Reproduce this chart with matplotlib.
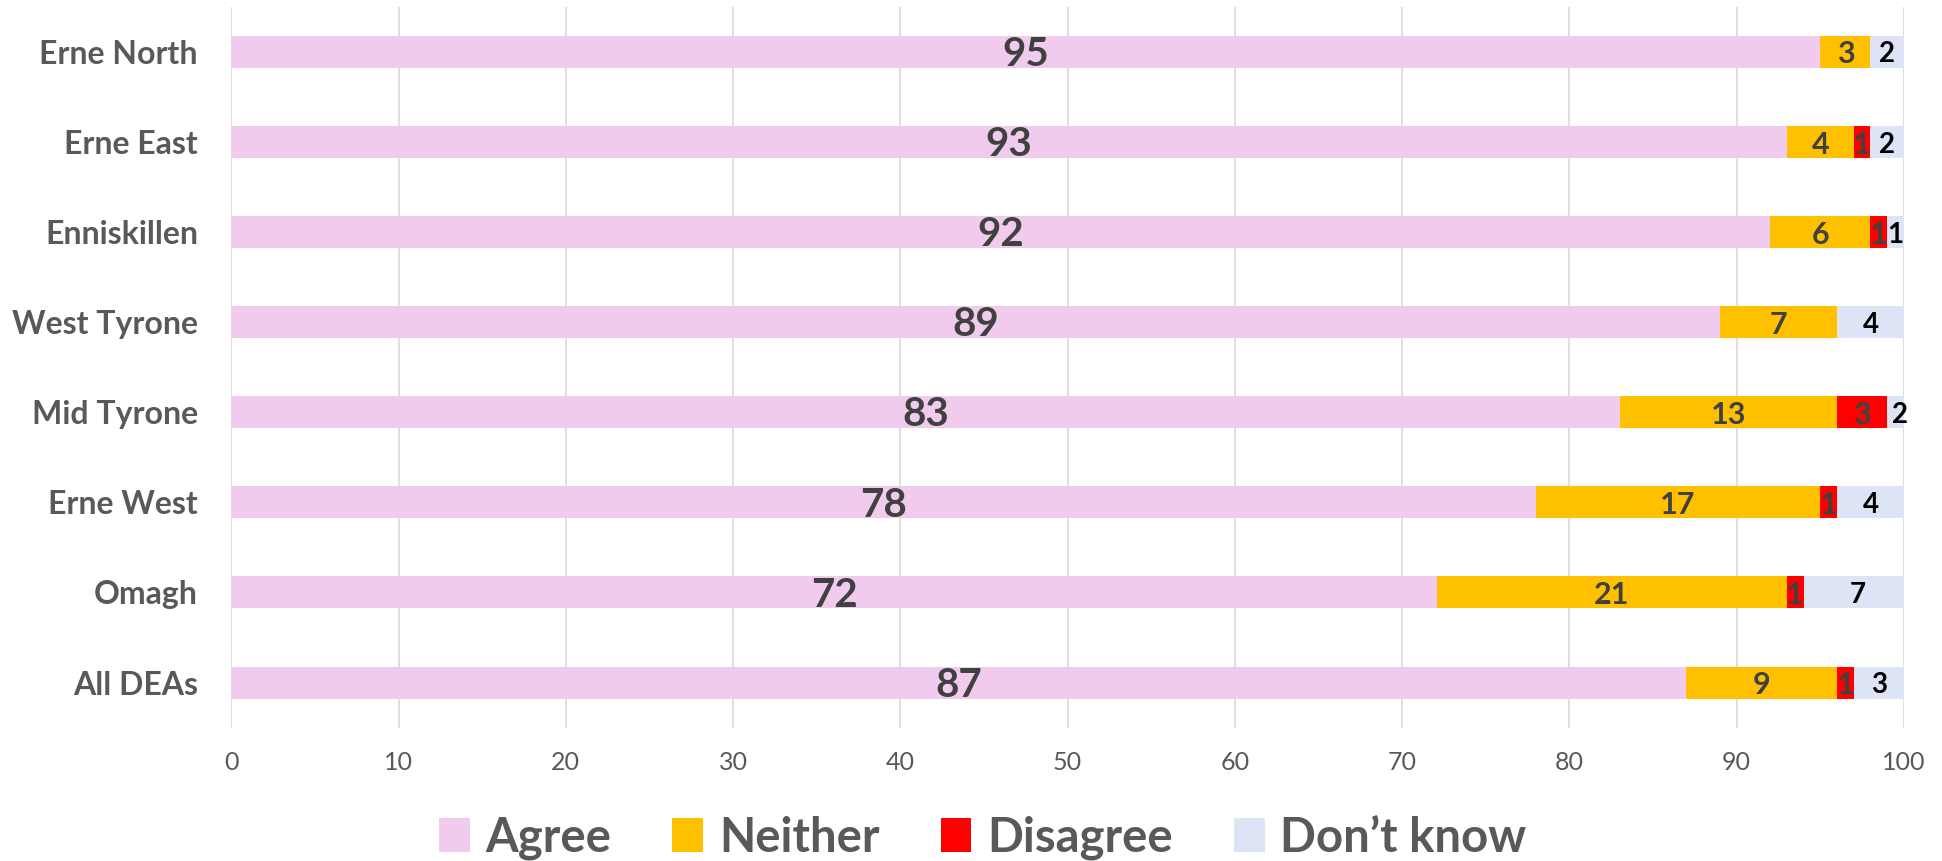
import matplotlib
matplotlib.use("Agg")
import matplotlib.pyplot as plt
import numpy as np

plt.rcParams["font.family"] = ["Lato", "DejaVu Sans"]

areas = ["Erne North", "Erne East", "Enniskillen", "West Tyrone",
         "Mid Tyrone", "Erne West", "Omagh", "All DEAs"]
agree = [95, 93, 92, 89, 83, 78, 72.1, 87]
neither = [3, 4, 6, 7, 13, 17, 20.9, 9]
disagree = [0, 1, 1, 0, 3, 1, 1, 1]
dont_know = [2, 2, 1, 4, 1.5, 4, 6.5, 3]

SERIES = [
    ("Agree", agree, "#F0CBEE", "#404040", 29),
    ("Neither", neither, "#FFC000", "#404040", 22),
    ("Disagree", disagree, "#FF0000", "#404040", 22),
    ("Don\u2019t know", dont_know, "#DDE4F5", "black", 20),
]

fig = plt.figure(figsize=(19.42, 8.61), dpi=100)
ax = fig.add_axes([0.1191, 0.1549, 0.9804 - 0.1191, 0.9922 - 0.1549])

y = np.arange(len(areas))
left = np.zeros(len(areas))
handles = []
for name, vals, color, tcolor, fs in SERIES:
    vals = np.array(vals, dtype=float)
    bars = ax.barh(y, vals, left=left, height=0.355, color=color, label=name, zorder=3)
    handles.append(bars)
    for yi, l, v in zip(y, left, vals):
        if v <= 0:
            continue
        ax.text(l + v / 2, yi + 0.03, str(int(v + 0.5)), ha="center", va="center",
                fontsize=fs, fontweight="bold", color=tcolor, zorder=4)
    left = left + vals

ax.set_xlim(0, 100)
ax.set_ylim(len(areas) - 0.5, -0.5)
ax.set_xticks(np.arange(0, 101, 10))
ax.set_yticks(y)
ax.set_yticklabels(areas, fontsize=23, fontweight="bold", color="#595959")
ax.tick_params(axis="y", length=0, pad=24)
ax.tick_params(axis="x", length=0, pad=17, labelsize=18, labelcolor="#595959")
ax.grid(axis="x", color="#D9D9D9", linewidth=1.2, zorder=0)
for s in ax.spines.values():
    s.set_visible(False)

fig.legend(handles=handles, labels=[s[0] for s in SERIES], loc="center",
           bbox_to_anchor=(0.506, 0.027), ncol=4, frameon=False,
           prop={"size": 34, "weight": "bold"}, labelcolor="#595959",
           handlelength=0.65, handleheight=0.75, handletextpad=0.33,
           columnspacing=1.3)

fig.savefig("out.png", dpi=100)
